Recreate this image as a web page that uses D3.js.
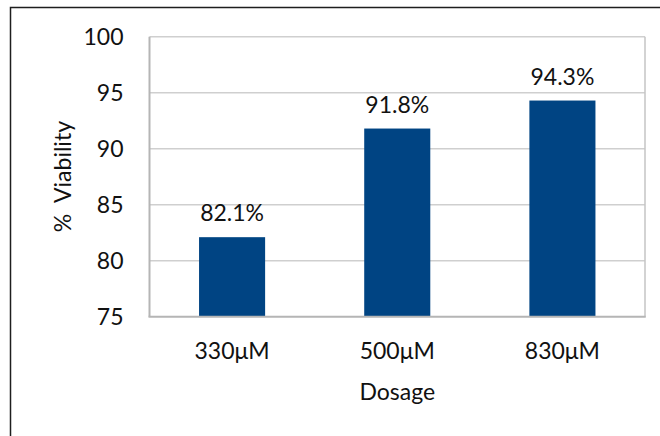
<!DOCTYPE html>
<html>
<head>
<meta charset="utf-8">
<script src="https://cdn.jsdelivr.net/npm/d3@7"></script>
<style>
  html, body { margin: 0; padding: 0; background: #fff; }
  svg { display: block; }
  text { font-family: Lato, "Open Sans", sans-serif; fill: #111; }
</style>
</head>
<body>
<script>
const categories = ["330μM", "500μM", "830μM"];
const values = [82.1, 91.8, 94.3];
const valueLabels = ["82.1%", "91.8%", "94.3%"];
const yTicks = [75, 80, 85, 90, 95, 100];
const yTitle = "%  Viability";
const xTitle = "Dosage";

const W = 660, H = 436;
const plot = { left: 149.5, right: 645, top: 36.7, bottom: 316.7 };
const FS = "23px";

const svg = d3.select("body").append("svg").attr("width", W).attr("height", H);

// outer chart border (only top/left visible in view)
svg.append("rect")
  .attr("x", 10.5).attr("y", 7.5).attr("width", 800).attr("height", 600)
  .attr("fill", "none").attr("stroke", "#1e1e1e").attr("stroke-width", 1.5);

const x = d3.scaleBand().domain(categories).range([plot.left, plot.right]).padding(0);
const y = d3.scaleLinear().domain([75, 100]).range([plot.bottom, plot.top]);

// gridlines
svg.append("g").selectAll("line").data(yTicks.filter(d => d > 75)).join("line")
  .attr("x1", plot.left).attr("x2", plot.right)
  .attr("y1", d => y(d)).attr("y2", d => y(d))
  .attr("stroke", "#cfcfcf").attr("stroke-width", 1.4);

// right border
svg.append("line")
  .attr("x1", plot.right).attr("x2", plot.right)
  .attr("y1", plot.top).attr("y2", plot.bottom)
  .attr("stroke", "#c4c4c4").attr("stroke-width", 1.5);

// bars
const barW = x.bandwidth() * 0.4;
svg.append("g").selectAll("rect").data(values).join("rect")
  .attr("x", (d, i) => x(categories[i]) + x.bandwidth() / 2 - barW / 2)
  .attr("width", barW)
  .attr("y", d => y(d))
  .attr("height", d => y(75) - y(d))
  .attr("fill", "#004483");

// axes lines
svg.append("line")
  .attr("x1", plot.left).attr("x2", plot.left)
  .attr("y1", plot.top).attr("y2", plot.bottom)
  .attr("stroke", "#b5b5b5").attr("stroke-width", 2);
svg.append("line")
  .attr("x1", plot.left - 1).attr("x2", plot.right + 0.75)
  .attr("y1", plot.bottom).attr("y2", plot.bottom)
  .attr("stroke", "#b5b5b5").attr("stroke-width", 2);

// y tick labels
const yAxis = d3.axisLeft(y).tickValues(yTicks).tickSize(0).tickPadding(26);
const yg = svg.append("g").attr("transform", `translate(${plot.left},0)`).call(yAxis);
yg.select(".domain").remove();
yg.selectAll("text").style("font-size", FS).style("font-family", "Lato, sans-serif").attr("fill", "#111");

// x tick labels
const xAxis = d3.axisBottom(x).tickSize(0).tickPadding(26);
const xg = svg.append("g").attr("transform", `translate(0,${plot.bottom})`).call(xAxis);
xg.select(".domain").remove();
xg.selectAll("text").style("font-size", FS).style("font-family", "Lato, sans-serif").attr("fill", "#111");

// data labels
svg.append("g").selectAll("text").data(values).join("text")
  .attr("x", (d, i) => x(categories[i]) + x.bandwidth() / 2)
  .attr("y", d => y(d) - 16)
  .attr("text-anchor", "middle")
  .style("font-size", FS)
  .text((d, i) => valueLabels[i]);

// axis titles
svg.append("text")
  .attr("transform", `translate(71,${(plot.top + plot.bottom) / 2}) rotate(-90)`)
  .attr("text-anchor", "middle")
  .attr("xml:space", "preserve")
  .style("font-size", FS)
  .style("white-space", "pre")
  .text(yTitle);

svg.append("text")
  .attr("x", (plot.left + plot.right) / 2).attr("y", 400)
  .attr("text-anchor", "middle")
  .style("font-size", FS)
  .text(xTitle);
</script>
</body>
</html>
